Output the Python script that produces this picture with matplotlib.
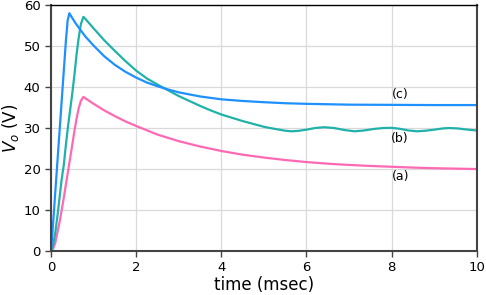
import matplotlib
matplotlib.use("Agg")
import matplotlib.pyplot as plt

# (c) blue curve
t_c = [0, 0.03, 0.1, 0.15, 0.2, 0.25, 0.3, 0.35, 0.39, 0.43, 0.5, 0.6, 0.8, 1.0, 1.25, 1.5, 1.75,
       2.0, 2.25, 2.5, 2.75, 3.0, 3.5, 4.0, 4.5, 5.0, 5.5, 6.0, 7.0, 8.0, 9.0, 10.0]
v_c = [0, 4.0, 14.4, 21.8, 29.2, 36.6, 44.0, 51.4, 56.2, 58.0, 56.8, 55.2, 52.4, 50.1, 47.5, 45.4, 43.7,
       42.3, 41.1, 40.2, 39.4, 38.7, 37.7, 37.0, 36.6, 36.3, 36.05, 35.9, 35.7, 35.65, 35.6, 35.6]

# (b) teal curve
t_b = [0, 0.05, 0.1, 0.15, 0.2, 0.25, 0.3, 0.35, 0.4, 0.45, 0.5, 0.55, 0.6, 0.65, 0.7, 0.76,
       0.8, 1.0, 1.25, 1.5, 1.75, 2.0, 2.25, 2.5, 2.75, 3.0, 3.25, 3.5, 3.75, 4.0, 4.25, 4.5, 4.75,
       5.0, 5.25, 5.5, 5.65, 5.8, 6.0, 6.2, 6.42, 6.65, 6.9, 7.13, 7.35, 7.6, 7.8, 8.0, 8.2, 8.4,
       8.6, 8.8, 9.0, 9.2, 9.35, 9.55, 9.75, 10.0]
v_b = [0, 1.5, 4.5, 8.5, 13.0, 17.5, 21.0, 26.0, 30.5, 34.5, 38.5, 43.0, 48.0, 52.0, 55.3, 57.1,
       56.7, 54.3, 51.4, 48.8, 46.3, 44.0, 42.1, 40.6, 39.2, 37.8, 36.6, 35.4, 34.3, 33.3, 32.5, 31.7, 31.0,
       30.3, 29.8, 29.35, 29.2, 29.3, 29.6, 30.0, 30.2, 30.0, 29.5, 29.2, 29.4, 29.8, 30.0, 30.05, 29.8, 29.4,
       29.2, 29.35, 29.6, 29.9, 30.0, 29.9, 29.65, 29.4]

# (a) pink curve
t_a = [0, 0.05, 0.1, 0.15, 0.2, 0.25, 0.3, 0.35, 0.4, 0.45, 0.5, 0.55, 0.6, 0.65, 0.7, 0.76,
       0.8, 1.0, 1.25, 1.5, 1.75, 2.0, 2.5, 3.0, 3.5, 4.0, 4.5, 5.0, 5.5, 6.0, 6.5, 7.0, 7.5,
       8.0, 8.5, 9.0, 9.5, 10.0]
v_a = [0, 0.6, 2.0, 4.5, 7.0, 10.0, 13.0, 16.3, 19.5, 22.7, 26.0, 29.3, 32.3, 34.8, 36.6, 37.6,
       37.3, 35.9, 34.3, 32.9, 31.6, 30.5, 28.4, 26.8, 25.5, 24.4, 23.5, 22.8, 22.2, 21.7, 21.3, 21.0, 20.75,
       20.55, 20.35, 20.2, 20.1, 20.0]

labels = ["(a)", "(b)", "(c)"]
label_t = [8.2, 8.2, 8.2]
label_v = [18.2, 27.4, 38.1]

x_ticks = [0, 2, 4, 6, 8, 10]
y_ticks = [0, 10, 20, 30, 40, 50, 60]

fig = plt.figure(figsize=(4.86, 2.95), dpi=100)
ax = fig.add_axes([0.105, 0.149, 0.876, 0.834])

ax.plot(t_a, v_a, color="#ff69b4", lw=1.6)
ax.plot(t_b, v_b, color="#20b2aa", lw=1.6)
ax.plot(t_c, v_c, color="#1e90ff", lw=1.6)

for lab, tx, vy in zip(labels, label_t, label_v):
    ax.text(tx, vy, lab, fontsize=9, ha="center", va="center")

ax.set_xlim(0, 10)
ax.set_ylim(0, 60)
ax.set_xticks(x_ticks)
ax.set_yticks(y_ticks)
ax.grid(True, color="#d9d9d9", lw=0.9)
ax.set_axisbelow(True)
ax.tick_params(labelsize=9.5, length=4, width=1, color="#444444")
ax.set_xlabel("time (msec)", fontsize=12, labelpad=1)
ax.set_ylabel(r"$V_o$ (V)", fontsize=12, labelpad=2)

for side in ["left", "bottom", "right"]:
    ax.spines[side].set_color("#444444")
    ax.spines[side].set_linewidth(1.5)
ax.spines["top"].set_color("black")
ax.spines["top"].set_linewidth(1.0)

fig.savefig("out.png", dpi=100)
